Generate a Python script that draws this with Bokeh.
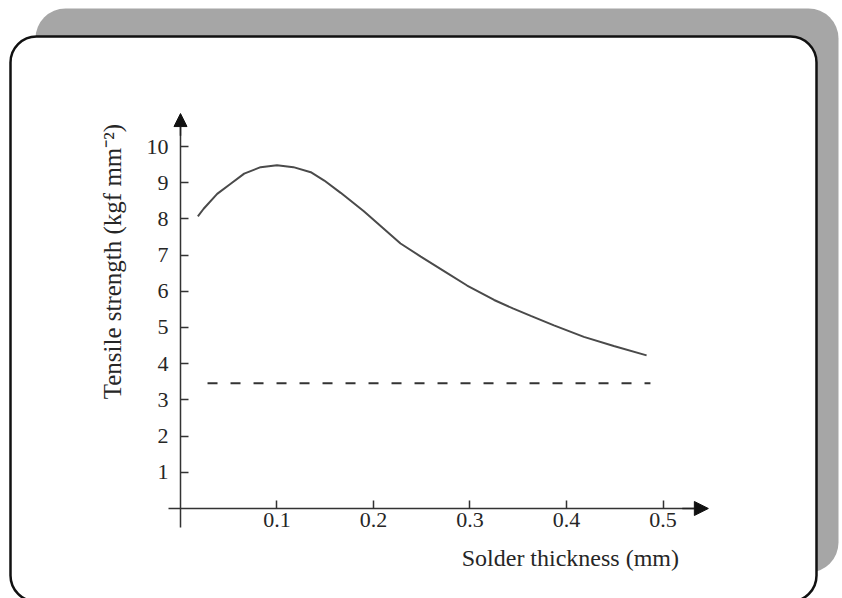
from bokeh.plotting import figure
from bokeh.models import BoxAnnotation, Arrow, NormalHead, Label, FixedTicker, Range1d
from bokeh.embed import file_html
from bokeh.resources import INLINE

# ---- data ----
thickness = [0.018, 0.024, 0.038, 0.052, 0.066, 0.083, 0.100, 0.117, 0.135, 0.149,
             0.166, 0.190, 0.228, 0.249, 0.276, 0.297, 0.325, 0.345, 0.363, 0.387,
             0.418, 0.449, 0.483]
strength = [8.07, 8.28, 8.69, 8.97, 9.25, 9.43, 9.48, 9.43, 9.29, 9.06,
            8.72, 8.21, 7.32, 6.96, 6.51, 6.16, 5.76, 5.52, 5.32, 5.06,
            4.74, 4.49, 4.23]
ref_thickness = [0.028, 0.487]
ref_strength = [3.46, 3.46]
x_ticks = [0.1, 0.2, 0.3, 0.4, 0.5]
x_tick_labels = ["0.1", "0.2", "0.3", "0.4", "0.5"]
y_ticks = [1, 2, 3, 4, 5, 6, 7, 8, 9, 10]
y_tick_labels = [str(v) for v in y_ticks]
x_title = "Solder thickness (mm)"
y_title = "Tensile strength (kgf mm\u207b\u00b2)"

FONT = "Liberation Serif"
INK = "#262626"

W, H = 842, 598
p = figure(width=W, height=H, output_backend="svg", toolbar_location=None,
           x_range=Range1d(-0.186528, 0.686010), y_range=Range1d(-2.48619, 14.03315),
           min_border=0)
p.background_fill_color = "white"
p.border_fill_color = "white"
p.outline_line_color = None
p.grid.visible = False

# frame decoration: gray shadow and rounded white card
shadow = BoxAnnotation(left=35, right=838, top=H - 8, bottom=H - 572,
                       left_units="screen", right_units="screen",
                       top_units="screen", bottom_units="screen",
                       fill_color="#a6a6a6", fill_alpha=1.0, line_color=None,
                       border_radius=30, level="underlay")
card = BoxAnnotation(left=10, right=816, top=H - 36, bottom=-3,
                     left_units="screen", right_units="screen",
                     top_units="screen", bottom_units="screen",
                     fill_color="white", fill_alpha=1.0, line_color="#111111",
                     line_alpha=1.0, line_width=2.5, border_radius=26, level="underlay")
p.add_layout(shadow)
p.add_layout(card)

# axes crossing at origin
for ax in (p.xaxis[0], p.yaxis[0]):
    ax.fixed_location = 0
    ax.axis_line_color = "#333333"
    ax.axis_line_width = 1.5
    ax.major_tick_line_color = "#333333"
    ax.major_tick_line_width = 1.5
    ax.major_tick_in = 8
    ax.major_tick_out = 0
    ax.minor_tick_line_color = None
    ax.major_label_text_font = FONT
    ax.major_label_text_font_size = "22px"
    ax.major_label_text_color = INK

p.xaxis[0].ticker = FixedTicker(ticks=x_ticks)
p.xaxis[0].major_label_overrides = dict(zip(x_ticks, x_tick_labels))
p.xaxis[0].bounds = (-0.012, 0.54)
p.xaxis[0].major_label_standoff = 5

p.yaxis[0].ticker = FixedTicker(ticks=y_ticks)
p.yaxis[0].major_label_overrides = dict(zip(y_ticks, y_tick_labels))
p.yaxis[0].bounds = (-0.52, 10.6)
p.yaxis[0].major_label_standoff = 12

# axis arrows
p.add_layout(Arrow(x_start=0, y_start=10.3, x_end=0, y_end=10.91,
                   line_color="#222222", line_width=1.5,
                   end=NormalHead(size=13, fill_color="#111111", line_color="#111111")))
p.add_layout(Arrow(x_start=0.52, y_start=0, x_end=0.547, y_end=0,
                   line_color="#222222", line_width=1.5,
                   end=NormalHead(size=14, fill_color="#111111", line_color="#111111")))

# data
p.line(thickness, strength, line_color="#4a4a4a", line_width=2)
p.line(ref_thickness, ref_strength, line_color="#333333", line_width=2, line_dash="10 13")

# titles
p.add_layout(Label(x=0.404, y=-1.38, text=x_title, text_font=FONT,
                   text_font_size="24px", text_color=INK,
                   text_align="center", text_baseline="middle"))
p.add_layout(Label(x=-0.0705, y=6.82, text=y_title, text_font=FONT,
                   text_font_size="25px", text_color=INK, angle=1.5707963,
                   text_align="center", text_baseline="middle"))

open("out.html", "w").write(file_html(p, INLINE))
